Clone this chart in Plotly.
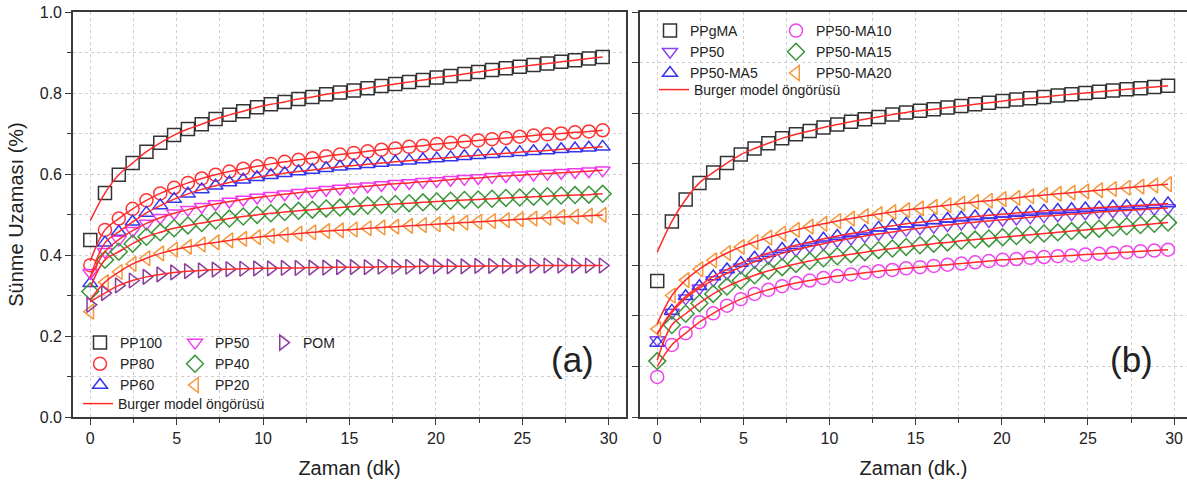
import plotly.graph_objects as go
from plotly.subplots import make_subplots

# ---------------- data ----------------
t_min = [0.0, 0.85, 1.65, 2.45, 3.25, 4.05, 4.85, 5.65, 6.45, 7.25, 8.05, 8.85,
         9.65, 10.45, 11.25, 12.05, 12.85, 13.65, 14.45, 15.25, 16.05, 16.85,
         17.65, 18.45, 19.25, 20.05, 20.85, 21.65, 22.45, 23.25, 24.05, 24.85,
         25.65, 26.45, 27.25, 28.05, 28.85, 29.65]

# panel (a)
pp100 = [0.437, 0.553, 0.598, 0.627, 0.655, 0.677, 0.696, 0.711, 0.723, 0.736, 0.746, 0.755,
         0.765, 0.772, 0.778, 0.785, 0.790, 0.797, 0.801, 0.806, 0.812, 0.817,
         0.822, 0.827, 0.832, 0.838, 0.842, 0.847, 0.852, 0.857, 0.861, 0.865,
         0.869, 0.873, 0.877, 0.881, 0.885, 0.889]
pp80 = [0.375, 0.462, 0.490, 0.514, 0.535, 0.552, 0.566, 0.578, 0.589, 0.598, 0.606, 0.613,
        0.619, 0.625, 0.630, 0.635, 0.639, 0.644, 0.648, 0.652, 0.656, 0.660,
        0.663, 0.667, 0.670, 0.674, 0.677, 0.680, 0.683, 0.686, 0.689, 0.692,
        0.695, 0.698, 0.700, 0.703, 0.705, 0.708]
pp60 = [0.330, 0.430, 0.457, 0.482, 0.504, 0.522, 0.538, 0.551, 0.562, 0.571, 0.579, 0.586,
        0.592, 0.597, 0.602, 0.606, 0.610, 0.614, 0.618, 0.621, 0.624, 0.627,
        0.630, 0.633, 0.636, 0.638, 0.641, 0.644, 0.646, 0.649, 0.651, 0.654,
        0.656, 0.658, 0.661, 0.663, 0.665, 0.667]
pp50 = [0.356, 0.408, 0.438, 0.460, 0.478, 0.492, 0.503, 0.512, 0.519, 0.526, 0.532, 0.537,
        0.542, 0.546, 0.550, 0.554, 0.557, 0.561, 0.564, 0.567, 0.570, 0.573,
        0.576, 0.578, 0.581, 0.583, 0.586, 0.588, 0.590, 0.593, 0.595, 0.597,
        0.599, 0.601, 0.603, 0.605, 0.607, 0.609]
pp40 = [0.310, 0.388, 0.408, 0.428, 0.445, 0.456, 0.466, 0.473, 0.479, 0.485, 0.490, 0.495,
        0.499, 0.503, 0.506, 0.509, 0.512, 0.515, 0.517, 0.520, 0.522, 0.524,
        0.526, 0.528, 0.530, 0.532, 0.534, 0.536, 0.537, 0.539, 0.541, 0.542,
        0.544, 0.545, 0.547, 0.548, 0.549, 0.551]
pp20 = [0.260, 0.333, 0.358, 0.378, 0.392, 0.404, 0.413, 0.420, 0.426, 0.431, 0.436, 0.440,
        0.444, 0.447, 0.450, 0.453, 0.456, 0.459, 0.461, 0.463, 0.466, 0.468,
        0.470, 0.472, 0.474, 0.476, 0.478, 0.480, 0.482, 0.484, 0.486, 0.488,
        0.490, 0.492, 0.494, 0.495, 0.497, 0.499]
pom = [0.277, 0.306, 0.325, 0.337, 0.346, 0.352, 0.357, 0.360, 0.362, 0.364, 0.365, 0.366,
       0.367, 0.367, 0.368, 0.368, 0.369, 0.369, 0.370, 0.370, 0.370, 0.371,
       0.371, 0.371, 0.372, 0.372, 0.372, 0.372, 0.373, 0.373, 0.373, 0.373,
       0.374, 0.374, 0.374, 0.374, 0.374, 0.374]

# panel (b)
ppgma = [0.336, 0.483, 0.537, 0.578, 0.604, 0.627, 0.648, 0.663, 0.676, 0.688, 0.698, 0.706,
         0.715, 0.722, 0.729, 0.735, 0.741, 0.747, 0.752, 0.756, 0.760, 0.764,
         0.768, 0.772, 0.776, 0.780, 0.784, 0.787, 0.790, 0.794, 0.797, 0.800,
         0.803, 0.806, 0.809, 0.812, 0.815, 0.818]
pp50_b = [0.190, 0.258, 0.293, 0.318, 0.338, 0.355, 0.370, 0.383, 0.394, 0.404, 0.413, 0.421,
          0.428, 0.435, 0.441, 0.447, 0.452, 0.457, 0.462, 0.466, 0.470, 0.474,
          0.478, 0.481, 0.484, 0.487, 0.490, 0.493, 0.496, 0.498, 0.501, 0.503,
          0.506, 0.508, 0.510, 0.512, 0.514, 0.516]
pp50_ma5 = [0.183, 0.262, 0.298, 0.323, 0.347, 0.364, 0.380, 0.393, 0.405, 0.415, 0.424, 0.432,
            0.440, 0.447, 0.453, 0.459, 0.467, 0.472, 0.477, 0.481, 0.485, 0.489,
            0.492, 0.495, 0.498, 0.501, 0.504, 0.506, 0.509, 0.511, 0.513, 0.515,
            0.517, 0.519, 0.521, 0.523, 0.525, 0.527]
pp50_ma10 = [0.099, 0.178, 0.207, 0.234, 0.256, 0.275, 0.291, 0.304, 0.314, 0.323, 0.331, 0.337,
             0.343, 0.348, 0.352, 0.356, 0.360, 0.363, 0.367, 0.370, 0.373, 0.376,
             0.379, 0.382, 0.385, 0.388, 0.390, 0.393, 0.395, 0.397, 0.399, 0.401,
             0.403, 0.405, 0.407, 0.409, 0.411, 0.413]
pp50_ma15 = [0.138, 0.227, 0.255, 0.281, 0.304, 0.322, 0.337, 0.350, 0.361, 0.370, 0.378, 0.385,
             0.392, 0.397, 0.402, 0.407, 0.412, 0.416, 0.420, 0.424, 0.428, 0.431,
             0.435, 0.438, 0.441, 0.444, 0.447, 0.450, 0.453, 0.456, 0.459, 0.462,
             0.465, 0.468, 0.471, 0.474, 0.477, 0.480]
pp50_ma20 = [0.217, 0.300, 0.338, 0.365, 0.387, 0.405, 0.420, 0.432, 0.443, 0.453, 0.462, 0.470,
             0.477, 0.484, 0.490, 0.496, 0.501, 0.506, 0.511, 0.515, 0.519, 0.523,
             0.527, 0.531, 0.534, 0.538, 0.541, 0.545, 0.548, 0.551, 0.554, 0.557,
             0.560, 0.563, 0.566, 0.569, 0.572, 0.575]

# Burger model starting values at t = 0
model_start_a = {"PP100": 0.485, "PP80": 0.385, "PP60": 0.345, "PP50": 0.345,
                 "PP40": 0.320, "PP20": 0.290, "POM": 0.285}
model_start_b = {"PPgMA": 0.407, "PP50": 0.205, "PP50-MA5": 0.205, "PP50-MA10": 0.125,
                 "PP50-MA15": 0.140, "PP50-MA20": 0.230}

names_a = ["PP100", "PP80", "PP60", "PP50", "PP40", "PP20", "POM"]
series_a = [pp100, pp80, pp60, pp50, pp40, pp20, pom]
symbols_a = ["square-open", "circle-open", "triangle-up-open", "triangle-down-open",
             "diamond-open", "triangle-left-open", "triangle-right-open"]
colors_a = ["#333333", "#ff3333", "#3535ee", "#ee3bee", "#3a963a", "#f5963a", "#8a3c9c"]
legends_a = ["legend", "legend", "legend", "legend2", "legend2", "legend2", "legend3"]

names_b = ["PPgMA", "PP50", "PP50-MA5", "PP50-MA10", "PP50-MA15", "PP50-MA20"]
series_b = [ppgma, pp50_b, pp50_ma5, pp50_ma10, pp50_ma15, pp50_ma20]
symbols_b = ["square-open", "triangle-down-open", "triangle-up-open", "circle-open",
             "diamond-open", "triangle-left-open"]
colors_b = ["#333333", "#8a45ee", "#3535ee", "#ee45ee", "#3a963a", "#f5963a"]
legends_b = ["legend5", "legend5", "legend5", "legend6", "legend6", "legend6"]

model_color = "#ff2a2a"
FONT = "Liberation Sans, Arial, sans-serif"

fig = make_subplots(rows=1, cols=2, horizontal_spacing=0.0)

for name, ys, sym, col, lg in zip(names_a, series_a, symbols_a, colors_a, legends_a):
    fig.add_trace(go.Scatter(x=t_min, y=ys, mode="markers", name=name, legend=lg,
                             marker=dict(symbol=sym, size=13, color=col,
                                         line=dict(width=1.5, color=col))),
                  row=1, col=1)
for i, (name, ys) in enumerate(zip(names_a, series_a)):
    fig.add_trace(go.Scatter(x=[0.0] + t_min[1:], y=[model_start_a[name]] + ys[1:],
                             mode="lines", line=dict(color=model_color, width=1.5, shape="spline"),
                             name="Burger model öngörüsü", legend="legend4",
                             showlegend=(i == 0)),
                  row=1, col=1)

for name, ys, sym, col, lg in zip(names_b, series_b, symbols_b, colors_b, legends_b):
    fig.add_trace(go.Scatter(x=t_min, y=ys, mode="markers", name=name, legend=lg,
                             marker=dict(symbol=sym, size=13, color=col,
                                         line=dict(width=1.5, color=col))),
                  row=1, col=2)
for i, (name, ys) in enumerate(zip(names_b, series_b)):
    fig.add_trace(go.Scatter(x=[0.0] + t_min[1:], y=[model_start_b[name]] + ys[1:],
                             mode="lines", line=dict(color=model_color, width=1.5, shape="spline"),
                             name="Burger model öngörüsü", legend="legend7",
                             showlegend=(i == 0)),
                  row=1, col=2)

W, H = 1187, 488
ML, MR, MT, MB = 73, 0, 12, 71
PW = W - ML - MR
PH = H - MT - MB


def px_x(p):
    return (p - ML) / PW


def px_y(p):
    return (H - MB - p) / PH


grid = dict(showgrid=True, gridcolor="#cfcfcf", griddash="dot", gridwidth=1)
axis_common = dict(showline=True, linecolor="#3a3a3a", linewidth=1.6, ticks="outside",
                   ticklen=6, tickwidth=1.4, tickcolor="#3a3a3a", zeroline=False,
                   tickfont=dict(family=FONT, size=16, color="#222222"), **grid)

fig.update_xaxes(domain=[0, px_x(626)], range=[-1, 31], tick0=0, dtick=5, mirror=True,
                 minor=dict(dtick=2.5, ticks="outside", ticklen=4, tickcolor="#3a3a3a",
                            showgrid=True, gridcolor="#cfcfcf", griddash="dot"),
                 title=dict(text="Zaman (dk)", standoff=15,
                            font=dict(family=FONT, size=20, color="#222222")),
                 **axis_common, row=1, col=1)
fig.update_xaxes(domain=[px_x(640), 1.0], range=[-1, 30.75], tick0=0, dtick=5, mirror=True,
                 minor=dict(dtick=2.5, ticks="outside", ticklen=4, tickcolor="#3a3a3a",
                            showgrid=True, gridcolor="#cfcfcf", griddash="dot"),
                 title=dict(text="Zaman (dk.)", standoff=15,
                            font=dict(family=FONT, size=20, color="#222222")),
                 **axis_common, row=1, col=2)
fig.update_yaxes(range=[0, 1.0], tick0=0, dtick=0.2, tickformat=".1f", mirror=True,
                 minor=dict(dtick=0.1, ticks="outside", ticklen=4, tickcolor="#3a3a3a",
                            showgrid=True, gridcolor="#cfcfcf", griddash="dot"),
                 title=dict(text="Sünme Uzaması (%)", standoff=11,
                            font=dict(family=FONT, size=20, color="#222222")),
                 **axis_common, row=1, col=1)
fig.update_yaxes(range=[0, 1.0], tick0=0, dtick=0.125, showticklabels=False, mirror=False,
                 **axis_common, row=1, col=2)

leg_font = dict(family=FONT, size=14, color="#222222")
leg_base = dict(bgcolor="rgba(0,0,0,0)", borderwidth=0, font=leg_font,
                xanchor="left", yanchor="top", itemwidth=30, tracegroupgap=0)

fig.update_layout(
    width=W, height=H,
    margin=dict(l=ML, r=MR, t=MT, b=MB),
    paper_bgcolor="white", plot_bgcolor="white",
    font=dict(family=FONT),
    showlegend=True,
    legend=dict(x=px_x(80), y=px_y(327), **leg_base),
    legend2=dict(x=px_x(175), y=px_y(327), **leg_base),
    legend3=dict(x=px_x(263), y=px_y(327), **leg_base),
    legend4=dict(x=px_x(78), y=px_y(388), **leg_base),
    legend5=dict(x=px_x(650), y=px_y(15), **leg_base),
    legend6=dict(x=px_x(776), y=px_y(15), **leg_base),
    legend7=dict(x=px_x(654), y=px_y(74), **leg_base),
    annotations=[
        dict(text="(a)", x=px_x(572), y=px_y(381), xref="paper", yref="paper",
             showarrow=False, font=dict(family=FONT, size=35, color="#222222")),
        dict(text="(b)", x=px_x(1155), y=px_y(381), xref="paper", yref="paper",
             showarrow=False, font=dict(family=FONT, size=35, color="#222222")),
    ],
)

fig.write_html("out.html")
